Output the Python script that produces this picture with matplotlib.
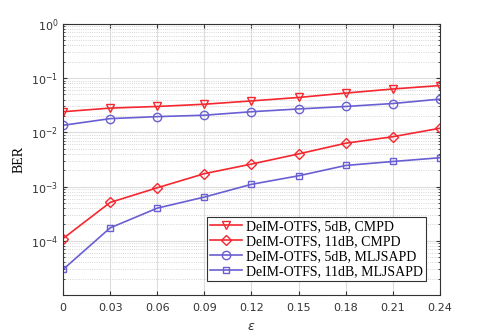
import matplotlib
matplotlib.use('Agg')
import matplotlib.pyplot as plt

eps = [0, 0.03, 0.06, 0.09, 0.12, 0.15, 0.18, 0.21, 0.24]
xtick_labels = ['0', '0.03', '0.06', '0.09', '0.12', '0.15', '0.18', '0.21', '0.24']

ber_5db_cmpd = [0.024, 0.028, 0.030, 0.033, 0.038, 0.044, 0.053, 0.063, 0.073]
ber_11db_cmpd = [1.1e-4, 5.1e-4, 9.5e-4, 1.73e-3, 2.6e-3, 4.0e-3, 6.3e-3, 8.3e-3, 0.0119]
ber_5db_mljsapd = [0.0135, 0.0179, 0.0195, 0.0207, 0.024, 0.027, 0.030, 0.034, 0.041]
ber_11db_mljsapd = [2.96e-5, 1.73e-4, 4.0e-4, 6.4e-4, 1.1e-3, 1.58e-3, 2.45e-3, 2.9e-3, 3.4e-3]

labels = ['DeIM-OTFS, 5dB, CMPD', 'DeIM-OTFS, 11dB, CMPD',
          'DeIM-OTFS, 5dB, MLJSAPD', 'DeIM-OTFS, 11dB, MLJSAPD']

red = '#f5272f'
blue = '#6a5fd2'

fig = plt.figure(figsize=(4.85, 3.32), dpi=100)
ax = fig.add_axes([0.130, 0.1114, 0.777, 0.8166])

ax.semilogy(eps, ber_5db_cmpd, color=red, marker='v', mfc='none', ms=6, lw=1.2, label=labels[0])
ax.semilogy(eps, ber_11db_cmpd, color=red, marker='D', mfc='none', ms=5, lw=1.2, label=labels[1])
ax.semilogy(eps, ber_5db_mljsapd, color=blue, marker='o', mfc='none', ms=6, lw=1.2, label=labels[2])
ax.semilogy(eps, ber_11db_mljsapd, color=blue, marker='s', mfc='none', ms=5, lw=1.2, label=labels[3])

ax.set_xlim(0, 0.24)
ax.set_ylim(1e-5, 1)
ax.set_xticks(eps)
ax.set_xticklabels(xtick_labels)
ax.set_yticks([1, 1e-1, 1e-2, 1e-3, 1e-4])
ax.set_yticklabels([r'$10^{0}$', r'$10^{-1}$', r'$10^{-2}$', r'$10^{-3}$', r'$10^{-4}$'])

ax.grid(True, which='major', color='#dcdcdc', lw=0.8)
ax.grid(True, which='minor', axis='y', color='#c8c8c8', lw=0.6, ls=':')
ax.tick_params(which='both', direction='in', labelsize=8, colors='#333333', top=True, right=True)
ax.tick_params(which='major', length=3)
ax.tick_params(axis='x', pad=6)
ax.tick_params(which='minor', length=1.5)
for s in ax.spines.values():
    s.set_color('#333333')
    s.set_linewidth(0.8)

ax.set_xlabel(r'$\epsilon$', fontsize=9, color='#333333', labelpad=5)
ax.set_ylabel('BER', family='Liberation Serif', fontsize=10)

leg = ax.legend(loc='lower right', bbox_to_anchor=(0.963, 0.052), fancybox=False,
                prop={'family': 'Liberation Serif', 'size': 10}, handlelength=2.3,
                borderpad=0.2, labelspacing=0.15, handletextpad=0.3, borderaxespad=0)
leg.get_frame().set_edgecolor('#333333')
leg.get_frame().set_linewidth(0.8)
leg.get_frame().set_alpha(1)

fig.savefig('out.png', dpi=100)
